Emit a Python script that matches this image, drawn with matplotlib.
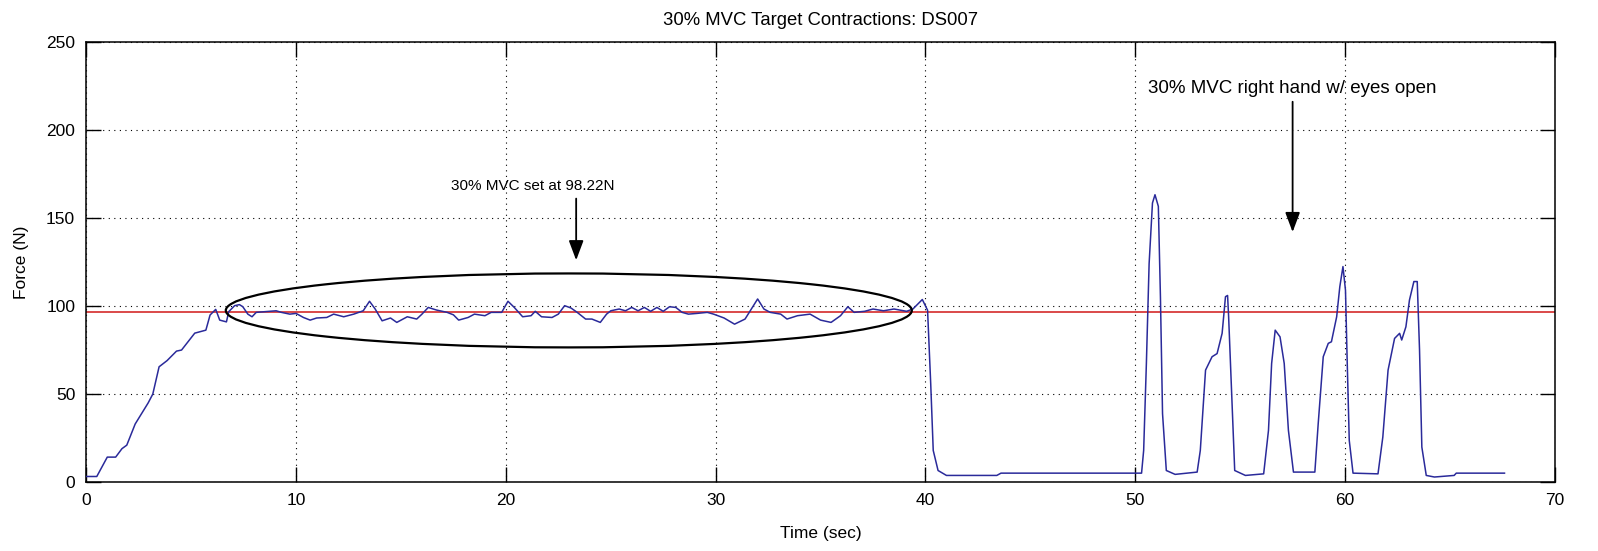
import matplotlib
matplotlib.use("Agg")
import matplotlib.pyplot as plt
from matplotlib.patches import Ellipse

plt.rcParams["font.family"] = ["Liberation Sans", "DejaVu Sans"]

# force trace (time in sec, force in N)
time_s = [
    0.0, 0.5, 1.0, 1.4, 1.7, 1.93, 2.33, 2.95, 3.17, 3.47, 3.85, 4.3, 4.54,
    5.17, 5.7, 5.9, 6.17, 6.36, 6.68, 6.79, 7.07, 7.3, 7.46, 7.7, 7.9, 8.1,
    9.05, 9.3, 9.7, 10.0, 10.35, 10.67, 10.98, 11.46, 11.79, 12.27, 12.75,
    13.2, 13.5, 13.77, 14.1, 14.5, 14.8, 15.3, 15.75, 16.0, 16.3, 16.7,
    17.2, 17.5, 17.75, 18.2, 18.5, 19.0, 19.3, 19.8, 20.1, 20.4, 20.8, 21.2,
    21.4, 21.7, 22.2, 22.5, 22.8, 23.1, 23.4, 23.8, 24.1, 24.5, 24.8, 25.0,
    25.4, 25.7, 26.0, 26.3, 26.6, 26.9, 27.2, 27.5, 27.8, 28.1, 28.4, 28.7,
    29.1, 29.6, 29.9, 30.4, 30.9, 31.4, 31.7, 32.0, 32.3, 32.6, 33.1, 33.4,
    33.9, 34.5, 35.0, 35.5, 35.95, 36.3, 36.6, 37.1, 37.5, 38.0, 38.5, 39.1,
    39.4, 39.85, 40.1, 40.25, 40.37, 40.6, 41.0, 43.4, 43.6, 50.3,
    50.4, 50.53, 50.66, 50.82, 50.94, 51.1, 51.2, 51.3, 51.48, 51.9, 52.95,
    53.1, 53.35, 53.66, 53.9, 54.14, 54.3, 54.4, 54.45, 54.6, 54.74, 55.25,
    56.12, 56.35, 56.5, 56.67, 56.9, 57.1, 57.3, 57.54, 58.56, 58.72, 58.96,
    59.2, 59.35, 59.6, 59.75, 59.9, 60.02, 60.1, 60.2, 60.38, 61.57, 61.8,
    62.05, 62.36, 62.6, 62.7, 62.9, 63.07, 63.28, 63.44, 63.55, 63.66,
    63.87, 64.26, 65.2, 65.3, 67.6,
]
force_n = [
    3.2, 3.2, 14.2, 14.2, 19.0, 21.0, 33.0, 45.0, 50.0, 65.5, 69.0, 74.4, 75.0,
    84.6, 86.3, 94.9, 98.1, 92.0, 91.0, 96.8, 100.2, 100.8, 99.6, 95.4, 93.9,
    96.4, 97.3, 96.4, 95.4, 95.8, 93.5, 92.0, 93.2, 93.5, 95.4, 93.9, 95.4,
    97.3, 102.7, 98.3, 91.6, 93.2, 90.7, 93.9, 92.6, 95.4, 99.2, 97.7,
    96.4, 95.0, 92.0, 93.5, 95.4, 94.5, 96.4, 96.4, 102.7, 99.2, 93.9, 94.5,
    97.0, 93.9, 93.5, 95.4, 100.2, 98.9, 96.4, 92.6, 92.6, 90.7, 95.4, 97.3,
    98.3, 97.3, 99.2, 97.3, 99.2, 97.0, 99.2, 97.0, 99.6, 99.2, 96.4, 95.4,
    95.8, 96.4, 95.4, 93.2, 89.7, 92.6, 98.3, 104.0, 98.3, 96.4, 95.4, 92.6,
    94.5, 95.4, 92.0, 90.7, 94.5, 99.6, 96.4, 97.0, 98.3, 97.3, 98.3, 97.0,
    98.3, 103.7, 97.6, 55.9, 18.0, 6.6, 3.8, 3.8, 5.1, 5.1,
    18.0, 67.4, 124.0, 158.5, 163.2, 156.6, 105.0, 38.9, 6.6, 4.4, 5.7,
    18.0, 63.6, 71.2, 73.0, 84.5, 105.3, 106.0, 94.0, 48.4, 6.6, 3.8,
    4.7, 29.4, 67.4, 86.3, 82.5, 67.4, 29.4, 5.7, 5.7, 33.2, 71.2,
    78.8, 79.7, 93.9, 111.0, 122.4, 109.0, 69.3, 23.7, 5.1, 4.7, 25.6,
    63.6, 81.6, 84.5, 80.7, 88.2, 103.4, 113.9, 113.9, 75.0, 19.9,
    3.8, 2.9, 3.8, 5.1, 5.1,
]
target_n = 96.8

x_ticks = [0, 10, 20, 30, 40, 50, 60, 70]
y_ticks = [0, 50, 100, 150, 200, 250]

fig = plt.figure(figsize=(15.98, 5.51), dpi=100)
ax = fig.add_axes([0.054, 0.125, 0.919, 0.799])

ax.axhline(target_n, color="#d42a2a", lw=1.2, zorder=2)
ax.plot(time_s, force_n, color="#2a2a9a", lw=1.1, zorder=3)

ax.add_patch(Ellipse((23.0, 97.5), 32.7, 42.0, fill=False,
                     edgecolor="black", lw=1.6, zorder=4))

arrow = dict(arrowstyle="-|>,head_length=1.2,head_width=0.45",
             color="black", lw=1.3, shrinkA=0, shrinkB=0)
ax.annotate("", xy=(23.35, 126), xytext=(23.35, 161), arrowprops=arrow)
ax.text(21.3, 168, "30% MVC set at 98.22N", ha="center", va="center",
        fontsize=11)
ax.annotate("", xy=(57.5, 142), xytext=(57.5, 216), arrowprops=arrow)
ax.text(57.5, 223.5, "30% MVC right hand w/ eyes open", ha="center",
        va="center", fontsize=13.5)

ax.set_xlim(0, 70)
ax.set_ylim(0, 250)
ax.set_xticks(x_ticks)
ax.set_yticks(y_ticks)
ax.tick_params(direction="in", length=11, width=1, top=True, right=True,
               labelsize=12.5, pad=8)
ax.grid(True, color="black", linestyle=(0, (1, 4)), lw=0.8)
for spine in ax.spines.values():
    spine.set_linewidth(1.1)

ax.set_title("30% MVC Target Contractions: DS007", fontsize=13.3, pad=12)
ax.set_xlabel("Time (sec)", fontsize=12.5, labelpad=13)
ax.set_ylabel("Force (N)", fontsize=12.5, labelpad=12)

fig.savefig("out.png", dpi=100)
